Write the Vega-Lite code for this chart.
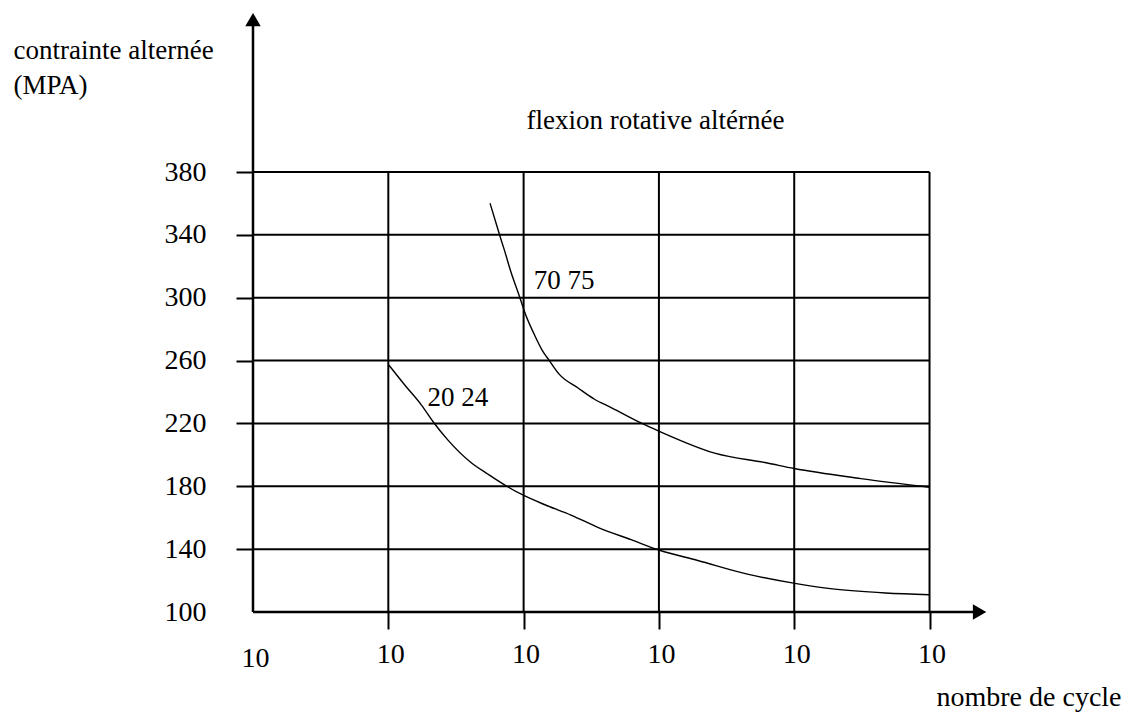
{
  "$schema": "https://vega.github.io/schema/vega-lite/v6.json",
  "width": 878,
  "height": 602,
  "autosize": {"type": "none"},
  "padding": {"left": 253, "top": 10, "right": 0, "bottom": 101},
  "background": "white",
  "config": {"view": {"stroke": null}, "font": "Liberation Serif"},
  "datasets": {
    "curves": [
      {"series": "70 75", "n": 1.752, "s": 360.1},
      {"series": "70 75", "n": 1.821, "s": 340.4},
      {"series": "70 75", "n": 1.858, "s": 330.3},
      {"series": "70 75", "n": 1.907, "s": 316.2},
      {"series": "70 75", "n": 1.956, "s": 304.1},
      {"series": "70 75", "n": 1.985, "s": 296.8},
      {"series": "70 75", "n": 2.005, "s": 291.5},
      {"series": "70 75", "n": 2.079, "s": 276.6},
      {"series": "70 75", "n": 2.141, "s": 266.0},
      {"series": "70 75", "n": 2.19, "s": 260.0},
      {"series": "70 75", "n": 2.264, "s": 251.2},
      {"series": "70 75", "n": 2.4, "s": 242.7},
      {"series": "70 75", "n": 2.524, "s": 235.4},
      {"series": "70 75", "n": 2.647, "s": 230.1},
      {"series": "70 75", "n": 2.867, "s": 220.3},
      {"series": "70 75", "n": 3.0, "s": 215.1},
      {"series": "70 75", "n": 3.412, "s": 201.1},
      {"series": "70 75", "n": 3.801, "s": 194.8},
      {"series": "70 75", "n": 4.0, "s": 191.3},
      {"series": "70 75", "n": 4.492, "s": 184.9},
      {"series": "70 75", "n": 5.0, "s": 179.4},
      {"series": "20 24", "n": 1.005, "s": 257.0},
      {"series": "20 24", "n": 1.123, "s": 244.3},
      {"series": "20 24", "n": 1.245, "s": 231.7},
      {"series": "20 24", "n": 1.338, "s": 220.3},
      {"series": "20 24", "n": 1.441, "s": 209.4},
      {"series": "20 24", "n": 1.613, "s": 195.0},
      {"series": "20 24", "n": 1.735, "s": 187.8},
      {"series": "20 24", "n": 1.882, "s": 179.7},
      {"series": "20 24", "n": 2.005, "s": 174.0},
      {"series": "20 24", "n": 2.153, "s": 168.4},
      {"series": "20 24", "n": 2.35, "s": 161.7},
      {"series": "20 24", "n": 2.548, "s": 153.9},
      {"series": "20 24", "n": 2.795, "s": 146.0},
      {"series": "20 24", "n": 3.005, "s": 139.3},
      {"series": "20 24", "n": 3.287, "s": 132.8},
      {"series": "20 24", "n": 3.654, "s": 124.1},
      {"series": "20 24", "n": 4.005, "s": 118.2},
      {"series": "20 24", "n": 4.283, "s": 114.7},
      {"series": "20 24", "n": 4.674, "s": 112.1},
      {"series": "20 24", "n": 5.0, "s": 111.0}
    ],
    "hgrid": [
      {"s": 140}, {"s": 180}, {"s": 220}, {"s": 260}, {"s": 300}, {"s": 340}, {"s": 380}
    ],
    "vgrid": [
      {"n": 1}, {"n": 2}, {"n": 3}, {"n": 4}, {"n": 5}
    ],
    "labels": [
      {"label": "flexion rotative altérnée", "n": 2.975, "s": 412.5},
      {"label": "70 75", "n": 2.299, "s": 310.6},
      {"label": "20 24", "n": 1.515, "s": 236.2}
    ]
  },
  "layer": [
    {
      "data": {"name": "curves"},
      "mark": {"type": "line", "color": "#000", "strokeWidth": 1.4, "interpolate": "monotone"},
      "encoding": {
        "x": {
          "field": "n", "type": "quantitative",
          "scale": {"domain": [0, 6.489], "nice": false, "zero": false},
          "axis": {
            "values": [0, 1, 2, 3, 4, 5],
            "labelExpr": "'10'",
            "domain": false, "grid": false,
            "tickSize": 17, "tickWidth": 2, "tickColor": "#000",
            "tickOpacity": {"condition": {"test": "datum.value == 0", "value": 0}, "value": 1},
            "labelFont": "Liberation Serif", "labelFontSize": 28, "labelColor": "#000",
            "labelPadding": {"condition": {"test": "datum.value == 0", "value": 15}, "value": 11},
            "labelOffset": 2,
            "labelFlush": false, "labelOverlap": false,
            "title": "nombre de cycle",
            "titleFont": "Liberation Serif", "titleFontSize": 28, "titleFontWeight": "normal", "titleColor": "#000",
            "titleAlign": "left", "titleBaseline": "alphabetic", "titleX": 683, "titleY": 93
          }
        },
        "y": {
          "field": "s", "type": "quantitative",
          "scale": {"domain": [100, 483.1], "nice": false, "zero": false},
          "axis": {
            "values": [100, 140, 180, 220, 260, 300, 340, 380],
            "domain": false, "grid": false,
            "tickSize": 17, "tickWidth": 2, "tickColor": "#000",
            "tickOpacity": {"condition": {"test": "datum.value == 100", "value": 0}, "value": 1},
            "labelFont": "Liberation Serif", "labelFontSize": 28, "labelColor": "#000",
            "labelPadding": 30, "labelOverlap": false, "labelFlush": false,
            "title": ["contrainte alternée", "(MPA)"],
            "titleFont": "Liberation Serif", "titleFontSize": 27, "titleFontWeight": "normal", "titleColor": "#000",
            "titleAngle": 0, "titleAlign": "left", "titleBaseline": "alphabetic",
            "titleX": -240, "titleY": 48, "titleLineHeight": 35
          }
        },
        "detail": {"field": "series", "type": "nominal"}
      }
    },
    {
      "data": {"name": "hgrid"},
      "mark": {"type": "rule", "color": "#000", "strokeWidth": 2},
      "encoding": {
        "y": {"field": "s", "type": "quantitative"},
        "x": {"datum": 0, "type": "quantitative"},
        "x2": {"datum": 5}
      }
    },
    {
      "data": {"name": "vgrid"},
      "mark": {"type": "rule", "color": "#000", "strokeWidth": 2},
      "encoding": {
        "x": {"field": "n", "type": "quantitative"},
        "y": {"datum": 100, "type": "quantitative"},
        "y2": {"datum": 380}
      }
    },
    {
      "data": {"values": [{}]},
      "mark": {"type": "rule", "color": "#000", "strokeWidth": 2.5},
      "encoding": {
        "x": {"datum": 0, "type": "quantitative"},
        "y": {"datum": 100, "type": "quantitative"},
        "y2": {"datum": 473.5}
      }
    },
    {
      "data": {"values": [{}]},
      "mark": {"type": "rule", "color": "#000", "strokeWidth": 2.5},
      "encoding": {
        "x": {"datum": 0, "type": "quantitative"},
        "x2": {"datum": 5.33},
        "y": {"datum": 100, "type": "quantitative"}
      }
    },
    {
      "data": {"values": [{}]},
      "mark": {"type": "point", "shape": "triangle-up", "filled": true, "color": "#000", "size": 240, "opacity": 1},
      "encoding": {
        "x": {"datum": 0, "type": "quantitative"},
        "y": {"datum": 477, "type": "quantitative"}
      }
    },
    {
      "data": {"values": [{}]},
      "mark": {"type": "point", "shape": "triangle-right", "filled": true, "color": "#000", "size": 240, "opacity": 1},
      "encoding": {
        "x": {"datum": 5.37, "type": "quantitative"},
        "y": {"datum": 100, "type": "quantitative"}
      }
    },
    {
      "data": {"name": "labels"},
      "mark": {"type": "text", "font": "Liberation Serif", "fontSize": 27, "color": "#000", "align": "center", "baseline": "middle"},
      "encoding": {
        "x": {"field": "n", "type": "quantitative"},
        "y": {"field": "s", "type": "quantitative"},
        "text": {"field": "label", "type": "nominal"}
      }
    }
  ]
}
